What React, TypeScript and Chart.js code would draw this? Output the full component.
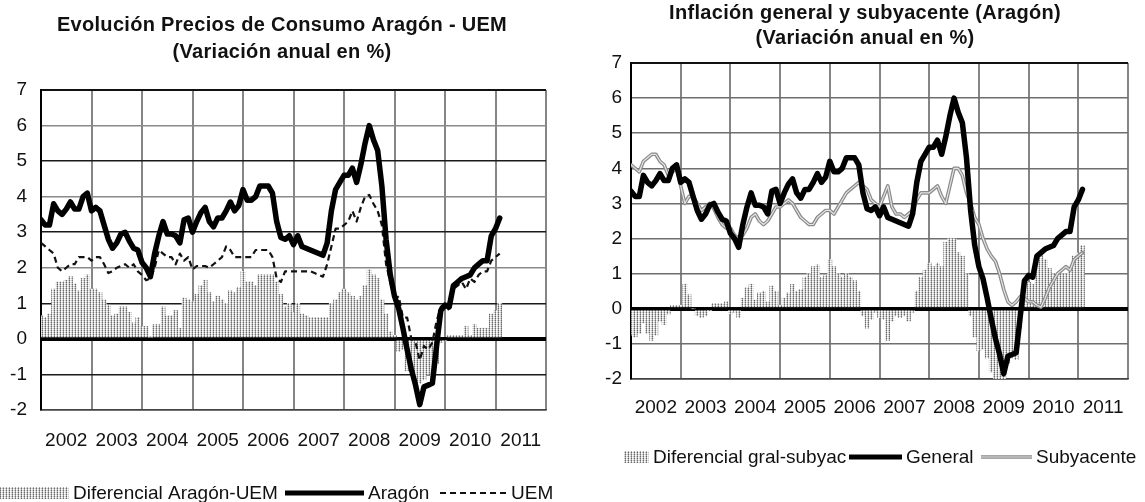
import React, { useEffect, useRef } from 'react';
import { Chart, registerables } from 'chart.js';

Chart.register(...registerables);

const FONT = 'Arial, "Liberation Sans", Helvetica, sans-serif';

// Year labels (one per year, Jan 2002 = month index 0)
const yearLabels = ['2002', '2003', '2004', '2005', '2006', '2007', '2008', '2009', '2010', '2011'];

// Monthly series, Jan 2002 .. Feb 2011 (annual variation, %)
const generalAragon = [
  3.35, 3.2, 3.2, 3.8, 3.6, 3.5, 3.65, 3.85, 3.65, 3.65, 4.0, 4.1,
  3.6, 3.7, 3.6, 3.2, 2.8, 2.55, 2.7, 2.95, 3.0, 2.75, 2.55, 2.5,
  2.15, 2.0, 1.75, 2.4, 2.9, 3.3, 2.95, 2.95, 2.9, 2.7, 3.35, 3.4,
  3.0, 3.3, 3.55, 3.7, 3.3, 3.15, 3.4, 3.4, 3.6, 3.85, 3.6, 3.75,
  4.2, 3.9, 3.9, 4.0, 4.3, 4.3, 4.3, 4.1, 3.3, 2.85, 2.8, 2.9,
  2.65, 2.9, 2.6, 2.55, 2.5, 2.45, 2.4, 2.35, 2.7, 3.6, 4.2, 4.4,
  4.6, 4.6, 4.8, 4.4, 4.9, 5.5, 6.0, 5.6, 5.3, 4.3, 2.8, 1.8,
  1.2, 0.85, 0.3, -0.3, -0.85, -1.3, -1.85, -1.35, -1.3, -1.25, -0.2, 0.8,
  0.95, 0.9, 1.5, 1.6, 1.7, 1.75, 1.8, 2.0, 2.1, 2.2, 2.2, 2.9,
  3.1, 3.4,
];

const uem = [
  2.7, 2.6, 2.5, 2.4, 2.0, 1.9, 2.0, 2.1, 2.1, 2.3, 2.3, 2.3,
  2.2, 2.3, 2.3, 2.1, 1.85, 1.9, 2.0, 2.05, 2.1, 2.0, 2.1, 1.9,
  1.8, 1.65, 1.7, 2.0, 2.5, 2.4, 2.3, 2.3, 2.1, 2.4, 2.2, 2.3,
  1.95, 2.05, 2.05, 2.05, 2.0, 2.1, 2.2, 2.3, 2.6, 2.5, 2.3, 2.3,
  2.3, 2.3, 2.3, 2.5, 2.5, 2.5, 2.5, 2.3, 1.7, 1.6, 1.9, 1.9,
  1.9, 1.9, 1.9, 1.9, 1.9, 1.85, 1.8, 1.75, 2.1, 2.6, 3.1, 3.1,
  3.2, 3.3, 3.6, 3.3, 3.7, 4.0, 4.05, 3.8, 3.6, 3.2, 2.1, 1.6,
  1.1, 1.2, 0.6, 0.6, 0.0, -0.1, -0.6, -0.2, -0.3, -0.1, 0.5, 0.9,
  1.0, 0.8, 1.4, 1.5, 1.6, 1.4, 1.7, 1.6, 1.8, 1.9, 1.9, 2.2,
  2.3, 2.4,
];

const diferencialAragonUem = [
  0.65, 0.6, 0.7, 1.4, 1.6, 1.6, 1.65, 1.75, 1.55, 1.35, 1.7, 1.8,
  1.4, 1.4, 1.3, 1.1, 0.95, 0.65, 0.7, 0.9, 0.9, 0.75, 0.45, 0.6,
  0.35, 0.35, 0.05, 0.4, 0.4, 0.9, 0.65, 0.65, 0.8, 0.3, 1.15, 1.1,
  1.05, 1.25, 1.5, 1.65, 1.3, 1.05, 1.2, 1.1, 1.0, 1.35, 1.3, 1.45,
  1.9, 1.6, 1.6, 1.5, 1.8, 1.8, 1.8, 1.8, 1.6, 1.25, 0.9, 1.0,
  0.75, 1.0, 0.7, 0.65, 0.6, 0.6, 0.6, 0.6, 0.6, 1.0, 1.1, 1.3,
  1.4, 1.3, 1.2, 1.1, 1.2, 1.5, 1.95, 1.8, 1.7, 1.1, 0.7, 0.2,
  0.1, -0.35, -0.3, -0.9, -0.85, -1.2, -1.25, -1.15, -1.0, -1.15, -0.7, -0.1,
  -0.05, 0.1, 0.1, 0.1, 0.1, 0.35, 0.1, 0.4, 0.3, 0.3, 0.3, 0.7,
  0.8, 1.0,
];

const subyacente = [
  4.1, 4.0, 3.9, 4.2, 4.3, 4.4, 4.4, 4.2, 4.1, 3.8, 3.9, 4.0,
  3.5, 3.0, 3.2, 3.2, 3.0, 2.8, 2.9, 3.0, 2.85, 2.6, 2.4, 2.3,
  2.3, 2.1, 2.0, 2.1, 2.3, 2.6, 2.7, 2.5, 2.4, 2.5, 2.7, 2.9,
  2.9, 3.0, 3.1, 3.0, 2.8, 2.6, 2.5, 2.4, 2.4, 2.6, 2.7, 2.8,
  2.8, 2.7, 2.9, 3.1, 3.3, 3.4, 3.5, 3.6, 3.5, 3.4, 3.1, 3.0,
  2.9, 3.2, 3.5, 2.9, 2.7, 2.7, 2.6, 2.7, 2.8, 3.1, 3.3, 3.3,
  3.3, 3.4, 3.5, 3.2, 3.0, 3.5, 4.0, 4.0, 3.8, 3.3, 3.0, 2.6,
  2.4, 2.0, 1.7, 1.5, 1.35, 1.0, 0.55, 0.2, 0.1, 0.2, 0.35, 0.3,
  0.2, 0.2, 0.1, 0.05, 0.3, 0.6, 0.8, 1.0, 1.1, 1.2, 1.1, 1.4,
  1.5, 1.6,
];

const diferencialGralSubyac = [
  -0.75, -0.8, -0.7, -0.4, -0.7, -0.9, -0.75, -0.35, -0.45, -0.15, 0.1, 0.1,
  0.1, 0.7, 0.4, 0.0, -0.2, -0.25, -0.2, -0.05, 0.15, 0.15, 0.15, 0.2,
  -0.15, -0.1, -0.25, 0.3, 0.6, 0.7, 0.25, 0.45, 0.5, 0.2, 0.65, 0.5,
  0.1, 0.3, 0.45, 0.7, 0.5, 0.55, 0.9, 1.0, 1.2, 1.25, 0.9, 0.95,
  1.4, 1.2, 1.0, 0.9, 1.0, 0.9, 0.8, 0.5, -0.2, -0.55, -0.3, -0.1,
  -0.25, -0.3, -0.9, -0.35, -0.2, -0.25, -0.2, -0.35, -0.1, 0.5, 0.9, 1.1,
  1.3, 1.2, 1.3, 1.2, 1.9, 2.0, 2.0, 1.6, 1.5, 1.0, -0.2, -0.8,
  -1.2, -1.15, -1.4, -1.8, -2.2, -2.3, -2.4, -1.55, -1.4, -1.45, -0.55, 0.5,
  0.75, 0.7, 1.4, 1.55, 1.4, 1.15, 1.0, 1.0, 1.0, 1.0, 1.1, 1.5,
  1.6, 1.8,
];

const Y_MIN = -2;
const Y_MAX = 7;
const MONTHS = 120;

const toXY = (arr: number[]) => arr.map((v, i) => ({ x: i, y: v }));

function makePattern(): CanvasPattern | string {
  const c = document.createElement('canvas');
  c.width = 3;
  c.height = 2;
  const g = c.getContext('2d');
  if (!g) return '#c4c4c4';
  const px = [
    ['#6a6a6a', '#e2e2e2', '#c6c6c6'],
    ['#a8a8a8', '#ffffff', '#eeeeee'],
  ];
  for (let y = 0; y < 2; y++) {
    for (let x = 0; x < 3; x++) {
      g.fillStyle = px[y][x];
      g.fillRect(x, y, 1, 1);
    }
  }
  return g.createPattern(c, 'repeat') || '#c4c4c4';
}

type LegendItem = { kind: 'bar' | 'line' | 'dash' | 'hollow'; x0: number; x1: number; label: string };

type PanelSpec = {
  titles: { text: string; y: number }[];
  titleX: number;
  legend: LegendItem[];
  legendY: number;
  padding: { top: number; right: number; bottom: number; left: number };
  yAxisWidth: number;
  xTickPad: number;
  yTickPad: number;
  hGrid: (v: number) => { color: string; width: number };
  barsLabel: string;
  bars: number[];
  lines: { label: string; data: number[]; style: 'thick' | 'dash' | 'hollow' }[];
};

function buildChart(canvas: HTMLCanvasElement, spec: PanelSpec) {
  const pattern = makePattern();

  const datasets: any[] = [];
  spec.lines.forEach((l, i) => {
    const base: any = {
      type: 'line',
      label: l.label,
      data: toXY(l.data),
      pointRadius: 0,
      tension: 0,
      fill: false,
      borderJoinStyle: 'round',
      borderCapStyle: 'round',
      order: i,
    };
    if (l.style === 'thick') {
      base.borderColor = '#000';
      base.borderWidth = 5.5;
    } else if (l.style === 'dash') {
      base.borderColor = '#111';
      base.borderWidth = 2.2;
      base.borderDash = [6, 4];
      base.borderCapStyle = 'butt';
    } else {
      base.borderColor = '#8a8a8a';
      base.borderWidth = 3.6;
      base.hollow = true;
    }
    datasets.push(base);
  });
  datasets.push({
    type: 'bar',
    label: spec.barsLabel,
    data: toXY(spec.bars),
    backgroundColor: pattern,
    borderWidth: 0,
    barPercentage: 1,
    categoryPercentage: 1,
    order: 10,
  });

  const decor = {
    id: 'decor',
    afterDatasetDraw(chart: any, args: any) {
      const ds = chart.data.datasets[args.index];
      if (!ds || !ds.hollow) return;
      const ctx = chart.ctx;
      const pts = args.meta.data;
      const a = chart.chartArea;
      ctx.save();
      ctx.beginPath();
      ctx.rect(a.left, a.top, a.right - a.left, a.bottom - a.top);
      ctx.clip();
      ctx.beginPath();
      pts.forEach((p: any, i: number) => (i ? ctx.lineTo(p.x, p.y) : ctx.moveTo(p.x, p.y)));
      ctx.strokeStyle = '#e4e4e4';
      ctx.lineWidth = 1.2;
      ctx.lineJoin = 'round';
      ctx.stroke();
      ctx.restore();
    },
    afterDraw(chart: any) {
      const ctx = chart.ctx;
      ctx.save();
      ctx.fillStyle = '#111';
      ctx.textAlign = 'center';
      ctx.textBaseline = 'middle';
      ctx.font = `bold 20px ${FONT}`;
      try {
        (ctx as any).letterSpacing = '0.3px';
      } catch (e) {
        /* ignore */
      }
      spec.titles.forEach((t) => ctx.fillText(t.text, spec.titleX, t.y));
      try {
        (ctx as any).letterSpacing = '0px';
      } catch (e) {
        /* ignore */
      }

      const y = spec.legendY;
      ctx.font = `19px ${FONT}`;
      ctx.textAlign = 'left';
      spec.legend.forEach((it) => {
        if (it.kind === 'bar') {
          ctx.fillStyle = pattern as any;
          ctx.fillRect(it.x0, y - 6, it.x1 - it.x0, 12);
        } else if (it.kind === 'line') {
          ctx.strokeStyle = '#000';
          ctx.lineWidth = 5;
          ctx.setLineDash([]);
          ctx.beginPath();
          ctx.moveTo(it.x0, y);
          ctx.lineTo(it.x1, y);
          ctx.stroke();
        } else if (it.kind === 'dash') {
          ctx.strokeStyle = '#111';
          ctx.lineWidth = 2;
          ctx.setLineDash([6, 4]);
          ctx.beginPath();
          ctx.moveTo(it.x0, y);
          ctx.lineTo(it.x1, y);
          ctx.stroke();
          ctx.setLineDash([]);
        } else {
          ctx.strokeStyle = '#8a8a8a';
          ctx.lineWidth = 3.6;
          ctx.beginPath();
          ctx.moveTo(it.x0, y);
          ctx.lineTo(it.x1, y);
          ctx.stroke();
          ctx.strokeStyle = '#e4e4e4';
          ctx.lineWidth = 1.2;
          ctx.beginPath();
          ctx.moveTo(it.x0, y);
          ctx.lineTo(it.x1, y);
          ctx.stroke();
        }
        ctx.fillStyle = '#111';
        ctx.fillText(it.label, it.x1 + 4, y + 1);
      });
      ctx.restore();
    },
  };

  return new Chart(canvas, {
    type: 'bar',
    data: { datasets },
    plugins: [decor],
    options: {
      responsive: false,
      animation: false,
      devicePixelRatio: 1,
      events: [],
      layout: { padding: spec.padding },
      plugins: {
        legend: { display: false },
        title: { display: false },
        tooltip: { enabled: false },
      },
      scales: {
        x: {
          type: 'linear',
          min: 0,
          max: MONTHS,
          offset: false,
          afterFit: (s: any) => {
            s.height = 50;
          },
          ticks: {
            stepSize: 6,
            autoSkip: false,
            maxRotation: 0,
            minRotation: 0,
            padding: spec.xTickPad,
            color: '#111',
            font: { family: FONT, size: 19 },
            callback: (v: any) => {
              const n = Math.round(Number(v));
              return n % 12 === 6 ? yearLabels[(n - 6) / 12] : '';
            },
          },
          grid: {
            offset: false,
            drawTicks: false,
            color: (c: any) => (c.tick && Math.round(c.tick.value) % 12 === 0 ? '#858585' : 'rgba(0,0,0,0)'),
            lineWidth: (c: any) => (c.tick && Math.round(c.tick.value) % 12 === 0 ? 2 : 1),
          },
          border: { display: true, color: '#444', width: 1.5 },
        },
        y: {
          type: 'linear',
          min: Y_MIN,
          max: Y_MAX,
          afterFit: (s: any) => {
            s.width = spec.yAxisWidth;
          },
          ticks: {
            stepSize: 1,
            padding: spec.yTickPad,
            color: '#111',
            font: { family: FONT, size: 19 },
          },
          grid: {
            drawTicks: false,
            color: (c: any) => spec.hGrid(Math.round(c.tick ? c.tick.value : 0)).color,
            lineWidth: (c: any) => spec.hGrid(Math.round(c.tick ? c.tick.value : 0)).width,
          },
          border: { display: true, color: '#000', width: 2 },
        },
      },
    } as any,
  });
}

const leftSpec: PanelSpec = {
  titles: [
    { text: 'Evolución Precios de Consumo Aragón - UEM', y: 25 },
    { text: '(Variación anual en %)', y: 52 },
  ],
  titleX: 282,
  legend: [
    { kind: 'bar', x0: 0, x1: 69, label: 'Diferencial Aragón-UEM' },
    { kind: 'line', x0: 285, x1: 364, label: 'Aragón' },
    { kind: 'dash', x0: 440, x1: 507, label: 'UEM' },
  ],
  legendY: 493,
  padding: { top: 90, right: 19, bottom: 42, left: 0 },
  yAxisWidth: 41,
  xTickPad: 19,
  yTickPad: 14,
  hGrid: (v) => {
    if (v === 0) return { color: '#000', width: 4 };
    if (v === 7) return { color: '#111', width: 2 };
    if (v === -2) return { color: '#444', width: 1.5 };
    return Math.abs(v) % 2 === 1 ? { color: '#1a1a1a', width: 1.5 } : { color: '#8a8a8a', width: 1.5 };
  },
  barsLabel: 'Diferencial Aragón-UEM',
  bars: diferencialAragonUem,
  lines: [
    { label: 'Aragón', data: generalAragon, style: 'thick' },
    { label: 'UEM', data: uem, style: 'dash' },
  ],
};

const rightSpec: PanelSpec = {
  titles: [
    { text: 'Inflación general y subyacente (Aragón)', y: 13 },
    { text: '(Variación anual en %)', y: 38 },
  ],
  titleX: 300,
  legend: [
    { kind: 'bar', x0: 59, x1: 84, label: 'Diferencial gral-subyac' },
    { kind: 'line', x0: 284, x1: 337, label: 'General' },
    { kind: 'hollow', x0: 416, x1: 467, label: 'Subyacente' },
  ],
  legendY: 457,
  padding: { top: 63, right: 10, bottom: 73, left: 0 },
  yAxisWidth: 66,
  xTickPad: 17,
  yTickPad: 9,
  hGrid: (v) => {
    if (v === 0) return { color: '#000', width: 4 };
    if (v === 7) return { color: '#111', width: 2 };
    if (v === -2) return { color: '#333', width: 1.5 };
    return { color: '#6e6e6e', width: 1.5 };
  },
  barsLabel: 'Diferencial gral-subyac',
  bars: diferencialGralSubyac,
  lines: [
    { label: 'General', data: generalAragon, style: 'thick' },
    { label: 'Subyacente', data: subyacente, style: 'hollow' },
  ],
};

function Panel({ spec, left, width }: { spec: PanelSpec; left: number; width: number }) {
  const ref = useRef<HTMLCanvasElement | null>(null);
  useEffect(() => {
    if (!ref.current) return;
    const chart = buildChart(ref.current, spec);
    return () => chart.destroy();
  }, [spec]);
  return (
    <canvas
      ref={ref}
      width={width}
      height={502}
      style={{ position: 'absolute', left, top: 0, width, height: 502 }}
    />
  );
}

export default function App() {
  return (
    <div style={{ position: 'absolute', left: 0, top: 0, width: 1145, height: 502, background: '#fff', overflow: 'hidden' }}>
      <Panel spec={leftSpec} left={0} width={565} />
      <Panel spec={rightSpec} left={565} width={580} />
    </div>
  );
}
